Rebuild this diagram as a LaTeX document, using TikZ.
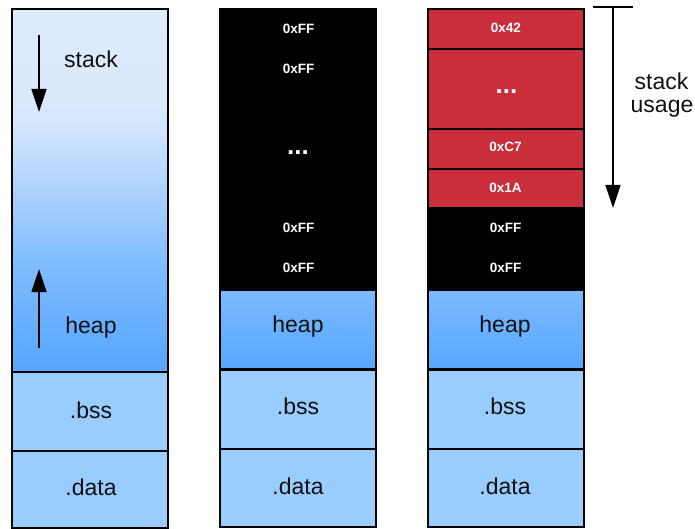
\documentclass[tikz,border=0pt]{standalone}
\usepackage{fontspec}
\setmainfont{Liberation Sans}
\usetikzlibrary{arrows.meta}
\definecolor{segblue}{HTML}{99CCFF}
\definecolor{heaptop}{HTML}{7CBAFF}
\definecolor{heapbot}{HTML}{56A7FF}
\definecolor{stackred}{HTML}{CA2E3A}
\definecolor{txt}{HTML}{111111}
\pgfdeclareverticalshading{stackheap}{100bp}{rgb(0bp)=(0.333,0.651,1); rgb(25bp)=(0.333,0.651,1); rgb(40bp)=(0.502,0.737,1); rgb(52bp)=(0.71,0.84,0.996); rgb(60bp)=(0.847,0.91,0.988); rgb(75bp)=(0.867,0.922,0.992); rgb(100bp)=(0.867,0.922,0.992)}
\tikzset{
  seg/.style={draw=black, line width=2pt, minimum width=156pt, inner sep=0pt, outer sep=0pt},
  lbl/.style={text=txt, font=\fontsize{23}{26}\selectfont, inner sep=0pt},
  hex/.style={text=white, font=\bfseries\fontsize{13.5}{15}\selectfont, inner sep=0pt},
  dots/.style={text=white, font=\bfseries\fontsize{26}{28}\selectfont, inner sep=0pt},
  arr/.style={line width=1.6pt, -{Triangle[width=15pt,length=23pt]}},
}
\begin{document}
\begin{tikzpicture}[x=1pt,y=-1pt]
\useasboundingbox (0,0) rectangle (695,529);
% ---------- column 1
\node[seg, shading=stackheap, minimum height=363pt] (sh1) at (90,190.5) {};
\node[seg, fill=segblue, minimum height=78.5pt] (bss1) at (90,411.25) {};
\node[seg, fill=segblue, minimum height=77.5pt] (data1) at (90,489.25) {};
\node[lbl] (stack1) at (91,59.5) {stack};
\node[lbl] (heap1) at (91,328) {heap};
\node[lbl] (bsst1) at (91,410) {.bss};
\node[lbl] (datat1) at (91,487.5) {.data};
\coordinate (sa1) at (39,35);
\coordinate (sa2) at (39,112);
\coordinate (ha1) at (39,348);
\coordinate (ha2) at (39,269);
\draw[arr] (sa1) -- (sa2);
\draw[arr] (ha1) -- (ha2);
% ---------- column 2
\node[seg, fill=black, minimum height=281pt] (free2) at (298,149.5) {};
\node[seg, top color=heaptop, bottom color=heapbot, minimum height=78.5pt] (heap2) at (298,329.25) {};
\node[seg, fill=segblue, minimum height=78.5pt] (bss2) at (298,409.25) {};
\node[seg, fill=segblue, minimum height=78.5pt] (data2) at (298,488) {};
\node[hex] (f21) at (298.5,29) {0xFF};
\node[hex] (f22) at (298.5,68.5) {0xFF};
\node[dots] (d2) at (298,153) {...};
\node[hex] (f23) at (298.5,227.5) {0xFF};
\node[hex] (f24) at (298.5,267.5) {0xFF};
\node[lbl] (heapt2) at (298,327) {heap};
\node[lbl] (bsst2) at (298,406.5) {.bss};
\node[lbl] (datat2) at (298,486.5) {.data};
% ---------- column 3
\node[seg, fill=stackred, minimum height=40pt] (r1) at (506,29) {};
\node[seg, fill=stackred, minimum height=80pt] (r2) at (506,89) {};
\node[seg, fill=stackred, minimum height=40pt] (r3) at (506,149) {};
\node[seg, fill=stackred, minimum height=39pt] (r4) at (506,188.5) {};
\node[seg, fill=black, minimum height=82pt] (free3) at (506,249) {};
\node[seg, top color=heaptop, bottom color=heapbot, minimum height=78.5pt] (heap3) at (506,329.25) {};
\node[seg, fill=segblue, minimum height=78.5pt] (bss3) at (506,409.25) {};
\node[seg, fill=segblue, minimum height=78.5pt] (data3) at (506,488) {};
\node[hex] (x42) at (505.8,28) {0x42};
\node[dots] (d3) at (506.5,91.5) {...};
\node[hex] (xc7) at (505.5,147) {0xC7};
\node[hex] (x1a) at (505.5,188) {0x1A};
\node[hex] (f31) at (505.5,227.5) {0xFF};
\node[hex] (f32) at (505.5,267.5) {0xFF};
\node[lbl] (heapt3) at (505,327) {heap};
\node[lbl] (bsst3) at (505,406) {.bss};
\node[lbl] (datat3) at (505,486) {.data};
% ---------- stack usage
\coordinate (ub1) at (593,7);
\coordinate (ub2) at (633,7);
\coordinate (ut) at (613,7);
\coordinate (ue) at (613,208);
\draw[line width=2pt] (ub1) -- (ub2);
\draw[arr] (ut) -- (ue);
\node[lbl] (su1) at (661.5,81) {stack};
\node[lbl] (su2) at (662,108.5) {usage};
\end{tikzpicture}
\end{document}
